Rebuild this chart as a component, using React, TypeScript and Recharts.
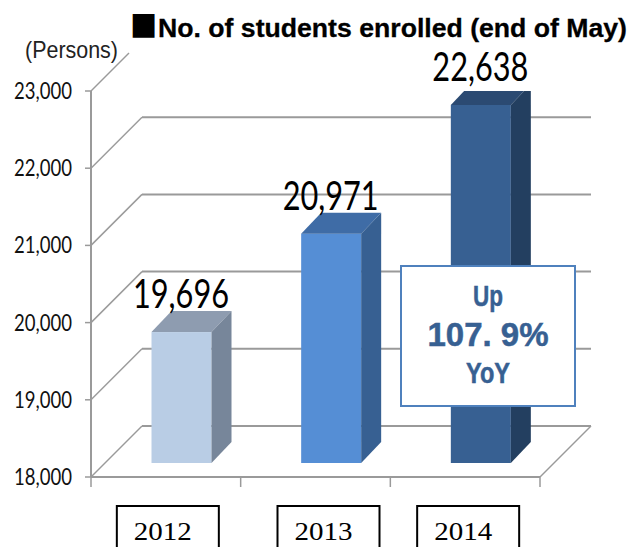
import React from "react";
import { BarChart, Bar, XAxis, YAxis, CartesianGrid, LabelList } from "recharts";

const categories = ["2012", "2013", "2014"];
const students = [19696, 20971, 22638];
const yTicks = [18000, 19000, 20000, 21000, 22000, 23000];
const titleText = "No. of students enrolled (end of May)";
const unitText = "(Persons)";
const calloutLines = ["Up", "107. 9%", "YoY"];

const data = categories.map((year, i) => ({ year, students: students[i] }));

const faces = [
  { front: "#b9cde5", top: "#8e9cb0", side: "#77869a" },
  { front: "#558ed5", top: "#3f6ca6", side: "#376092" },
  { front: "#376092", top: "#2b4a72", side: "#233f60" },
];
const boxOffsets = [2, 13, 3];

const W = 640;
const H = 547;
const PLOT_LEFT = 91;
const PLOT_RIGHT = 540;
const PLOT_TOP = 91;
const PLOT_BOTTOM = 477;
const DEPTH = 51;
const GRID = "#9a9a9a";
const CALLOUT_TEXT = "#376092";
const NUM_FONT = "Lato, 'Open Sans', sans-serif";
const SANS = "'Liberation Sans', Arial, sans-serif";

const gridLine = (p: any) => {
  const { x1, x2, y1 } = p;
  const y = y1;
  if (Math.abs(y - PLOT_TOP) < 1) {
    return <line key={p.key} x1={x1} y1={y} x2={x1 + 38} y2={y - 38} stroke={GRID} strokeWidth={1.5} />;
  }
  const floor = Math.abs(y - PLOT_BOTTOM) < 1;
  return (
    <g key={p.key}>
      <line x1={x1} y1={y} x2={x1 + DEPTH} y2={y - DEPTH} stroke={GRID} strokeWidth={1.5} />
      <line x1={x1 + DEPTH} y1={y - DEPTH} x2={x2 + DEPTH} y2={y - DEPTH} stroke={GRID} strokeWidth={2} />
      {floor && <line x1={x2 + DEPTH} y1={y - DEPTH} x2={x2} y2={y} stroke={GRID} strokeWidth={1.5} />}
    </g>
  );
};

const Bar3D = (p: any) => {
  const { x, y, width, height, index } = p;
  const c = faces[index];
  const X = x + 15.5;
  const Y = y - 14;
  const d = 20;
  const e = 21;
  return (
    <g>
      <rect x={X} y={Y} width={width} height={height} fill={c.front} />
      <polygon points={`${X},${Y} ${X + d},${Y - e} ${X + width + d},${Y - e} ${X + width},${Y}`} fill={c.top} />
      <polygon
        points={`${X + width},${Y} ${X + width + d},${Y - e} ${X + width + d},${Y + height - e} ${X + width},${Y + height}`}
        fill={c.side}
      />
    </g>
  );
};

const ValueLabel = (p: any) => {
  const { x, y, width, value } = p;
  return (
    <text
      x={x + width / 2 + 15}
      y={y - 38}
      textAnchor="middle"
      fontFamily={NUM_FONT}
      fontSize={41}
      fill="#000"
      textLength={96}
      lengthAdjust="spacingAndGlyphs"
    >
      {Number(value).toLocaleString("en-US")}
    </text>
  );
};

const YTick = (p: any) => {
  const { x, y, payload } = p;
  return (
    <g>
      <line x1={PLOT_LEFT - 6} y1={y} x2={PLOT_LEFT} y2={y} stroke={GRID} strokeWidth={1.5} />
      <text
        x={14}
        y={y + 8}
        fontFamily={NUM_FONT}
        fontSize={24}
        fill="#111"
        textLength={58}
        lengthAdjust="spacingAndGlyphs"
      >
        {Number(payload.value).toLocaleString("en-US")}
      </text>
    </g>
  );
};

const XTick = (p: any) => {
  const { x, payload, index } = p;
  const cx = x + boxOffsets[index];
  return (
    <g>
      <line x1={x - (PLOT_RIGHT - PLOT_LEFT) / 6} y1={PLOT_BOTTOM} x2={x - (PLOT_RIGHT - PLOT_LEFT) / 6} y2={487} stroke={GRID} strokeWidth={1.5} />
      {index === categories.length - 1 && (
        <line x1={x + (PLOT_RIGHT - PLOT_LEFT) / 6} y1={PLOT_BOTTOM} x2={x + (PLOT_RIGHT - PLOT_LEFT) / 6} y2={487} stroke={GRID} strokeWidth={1.5} />
      )}
      <rect x={cx - 51} y={506} width={102} height={50} fill="#fff" stroke="#000" strokeWidth={2} />
      <text x={cx - 5} y={540} textAnchor="middle" fontFamily="'Liberation Serif', serif" fontSize={25} fill="#000" textLength={58} lengthAdjust="spacingAndGlyphs">
        {payload.value}
      </text>
    </g>
  );
};

export default function App() {
  return (
    <div style={{ position: "absolute", left: 0, top: 0, width: W, height: H, overflow: "hidden", background: "#fff" }}>
      <BarChart
        width={W}
        height={H}
        data={data}
        barSize={60}
        margin={{ top: PLOT_TOP, bottom: 0, left: 0, right: W - PLOT_RIGHT }}
      >
        <CartesianGrid vertical={false} horizontal={gridLine} />
        <XAxis
          dataKey="year"
          stroke={GRID}
          strokeWidth={2}
          height={H - PLOT_BOTTOM}
          tick={<XTick />}
          tickLine={false}
          interval={0}
        />
        <YAxis
          type="number"
          domain={[18000, 23000]}
          ticks={yTicks}
          width={PLOT_LEFT}
          stroke={GRID}
          strokeWidth={2}
          tick={<YTick />}
          tickLine={false}
          interval={0}
          allowDataOverflow
        />
        <Bar dataKey="students" isAnimationActive={false} shape={<Bar3D />}>
          <LabelList dataKey="students" content={<ValueLabel />} />
        </Bar>
      </BarChart>
      <svg width={W} height={H} style={{ position: "absolute", left: 0, top: 0, pointerEvents: "none" }}>
        <text x={130} y={34} fontFamily="'DejaVu Sans', sans-serif" fontSize={31} textLength={27} lengthAdjust="spacingAndGlyphs" fill="#000">■</text>
        <text x={158} y={37} fontFamily={SANS} fontWeight={700} fontSize={26} fill="#000" stroke="#000" strokeWidth={0.3} textLength={469} lengthAdjust="spacingAndGlyphs">
          {titleText}
        </text>
        <text x={25} y={58} fontFamily={SANS} fontSize={24} fill="#222" textLength={93} lengthAdjust="spacingAndGlyphs">
          {unitText}
        </text>
        <rect x={401} y={266} width={174} height={140} fill="#fff" stroke="#4f81bd" strokeWidth={2} />
        <text x={488} y={306} textAnchor="middle" fontFamily={SANS} fontWeight={700} fontSize={29} fill={CALLOUT_TEXT} stroke={CALLOUT_TEXT} strokeWidth={0.5} textLength={30} lengthAdjust="spacingAndGlyphs">
          {calloutLines[0]}
        </text>
        <text x={488} y={346} textAnchor="middle" fontFamily={SANS} fontWeight={700} fontSize={33} fill={CALLOUT_TEXT} stroke={CALLOUT_TEXT} strokeWidth={0.5} textLength={121} lengthAdjust="spacing">
          {calloutLines[1]}
        </text>
        <text x={488} y={383} textAnchor="middle" fontFamily={SANS} fontWeight={700} fontSize={29} fill={CALLOUT_TEXT} stroke={CALLOUT_TEXT} strokeWidth={0.5} textLength={44} lengthAdjust="spacingAndGlyphs">
          {calloutLines[2]}
        </text>
      </svg>
    </div>
  );
}
